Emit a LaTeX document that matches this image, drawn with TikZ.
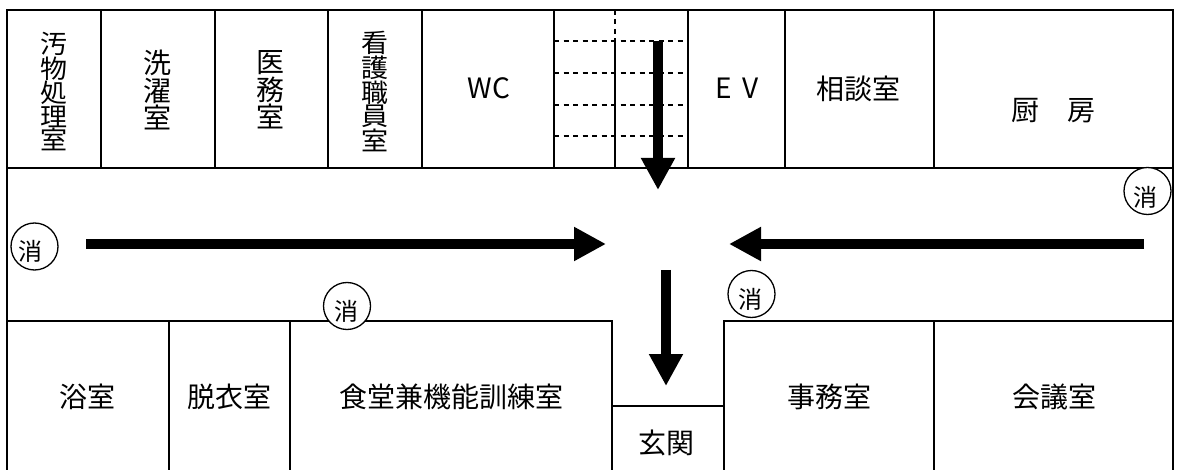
\documentclass[tikz,border=0pt]{standalone}
\usepackage{fontspec}
\setmainfont{Noto Sans CJK JP}
\usepackage{graphicx}
\usetikzlibrary{arrows.meta}
\newcommand{\squeezed}[1]{\scalebox{1}[0.95]{#1}}
\tikzset{
  wall/.style={line width=1.7pt,draw=black},
  stair/.style={line width=1.5pt,draw=black,dash pattern=on 5pt off 4.5pt},
  flow/.style={line width=10pt,draw=black,-{Triangle[width=32pt,length=32pt]}},
  room/.style={inner sep=0pt,font=\fontsize{28}{30}\selectfont,text=black},
  vroom/.style={inner sep=0pt,align=center,font=\fontsize{28}{27.5}\selectfont},
  vdense/.style={inner sep=0pt,align=center,font=\fontsize{27}{23.2}\selectfont},
  ext/.style={circle,draw=black,fill=white,line width=1.3pt,minimum size=47pt,inner sep=0pt},
  extlabel/.style={inner sep=0pt,font=\fontsize{24}{26}\selectfont},
}
\begin{document}
\begin{tikzpicture}[x=1pt,y=-1pt]
\useasboundingbox (0,0) rectangle (1178,470);
% outer walls
\draw[wall] (7,470) -- (7,10) -- (1173,10) -- (1173,470);
\draw[wall] (7,168) -- (1173,168);
\draw[wall] (7,321) -- (612,321) -- (612,470);
\draw[wall] (724,470) -- (724,321) -- (1173,321);
\draw[wall] (612,406) -- (724,406);
% upper partitions
\foreach \x in {101,215,328,422,554,688,785,934} \draw[wall] (\x,10) -- (\x,168);
\draw[wall] (615,41) -- (615,168);
\draw[stair] (615,10) -- (615,41);
\foreach \y/\w in {41/1.8,73/1.4,105/1.4,136/1.4} \draw[stair,line width=\w pt] (554,\y) -- (688,\y);
% lower partitions
\foreach \x in {169,290,934} \draw[wall] (\x,321) -- (\x,470);
% room labels
\node[vdense] (r1) at (53.5,91.5) {\squeezed{汚}\\\squeezed{物}\\\squeezed{処}\\\squeezed{理}\\\squeezed{室}};
\node[vroom] (r2) at (157,90) {洗\\濯\\室};
\node[vroom] (r3) at (270.5,90) {医\\務\\室};
\node[vdense] (r4) at (374.5,91.5) {\squeezed{看}\\\squeezed{護}\\\squeezed{職}\\\squeezed{員}\\\squeezed{室}};
\node[room] (r5) at (489,88) {WC};
\node[room] (r6) at (737,88) {E\hspace{0.4em}V};
\node[room] (r7) at (858.5,89) {相談室};
\node[room] (r8) at (1053.5,111) {厨\hspace{1em}房};
\node[room] (r9) at (87,397) {浴室};
\node[room] (r10) at (229,397) {脱衣室};
\node[room] (r11) at (451,397) {食堂兼機能訓練室};
\node[room] (r12) at (829,397) {事務室};
\node[room] (r13) at (1054,397) {会議室};
\node[room] (r14) at (666,443) {玄関};
% flow arrows
\coordinate (a1s) at (658,41);  \coordinate (a1e) at (658,190);
\coordinate (a2s) at (86,244);  \coordinate (a2e) at (606,244);
\coordinate (a3s) at (1144,244);\coordinate (a3e) at (729,244);
\coordinate (a4s) at (666,270); \coordinate (a4e) at (666,386);
\draw[flow] (a1s) -- (a1e);
\draw[flow] (a2s) -- (a2e);
\draw[flow] (a3s) -- (a3e);
\draw[flow] (a4s) -- (a4e);
% extinguishers
\node[ext] (c1) at (34.5,246.5) {};
\node[ext] (c2) at (347,306) {};
\node[ext] (c3) at (751.5,294) {};
\node[ext] (c4) at (1147.5,191) {};
\node[extlabel] (l1) at (31,251) {消};
\node[extlabel] (l2) at (346,311.5) {消};
\node[extlabel] (l3) at (750,299) {消};
\node[extlabel] (l4) at (1145,197) {消};
\end{tikzpicture}
\end{document}
